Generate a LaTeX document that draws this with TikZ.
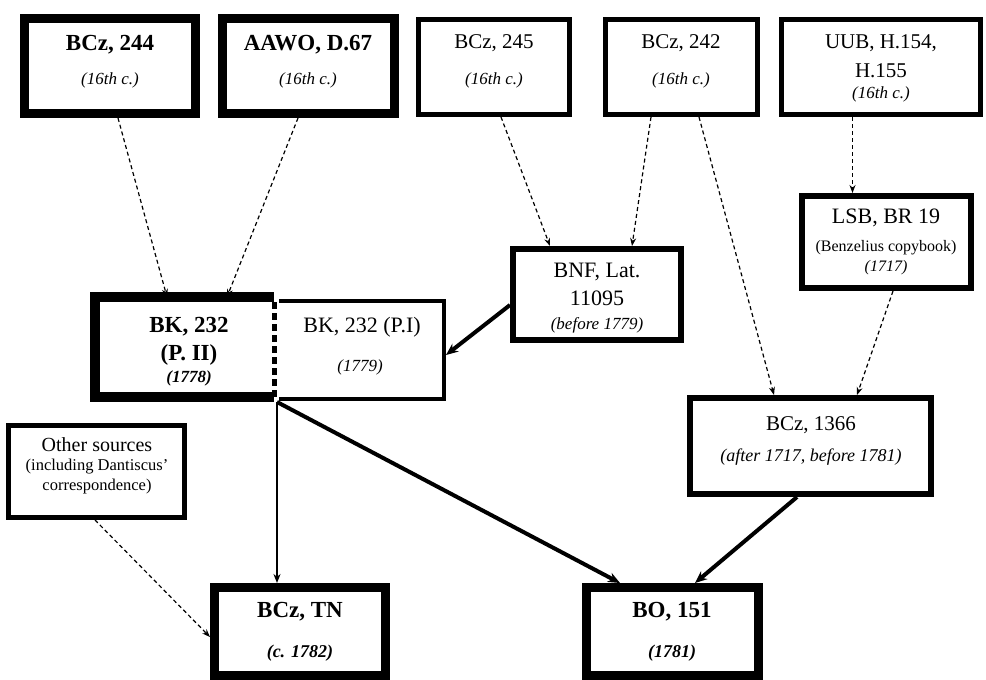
\documentclass[tikz,border=0pt]{standalone}
\usepackage{fontspec}
\setmainfont{Liberation Serif}
\usetikzlibrary{arrows.meta}
\newcommand\fsz[1]{\fontsize{#1}{#1}\selectfont}
\begin{document}
\begin{tikzpicture}[x=1pt,y=-1pt,
  boxthick/.style={draw, line width=9pt, rectangle, inner sep=0pt},
  boxmed/.style={draw, line width=5pt, rectangle, inner sep=0pt},
  txt/.style={inner sep=0pt, anchor=center},
  dasharrow/.style={line width=1.2pt, dash pattern=on 4pt off 3pt, -{Stealth[length=8pt,width=6pt]}},
  solidarrow/.style={line width=4pt, -{Stealth[length=12pt,width=10pt]}},
  thinarrow/.style={line width=2pt, -{Stealth[length=9pt,width=7pt]}},
]
\useasboundingbox[fill=white] (0,0) rectangle (986,680);

% boxes
\node[boxthick, minimum width=171pt, minimum height=95pt] (b244) at (110,66) {};
\node[boxthick, minimum width=172pt, minimum height=95pt] (aawo) at (308.5,66) {};
\node[boxmed, minimum width=151pt, minimum height=95pt] (b245) at (494,67) {};
\node[boxmed, minimum width=152pt, minimum height=95pt] (b242) at (681.5,67) {};
\node[boxmed, minimum width=199pt, minimum height=95pt] (uub) at (881,67) {};
\node[boxmed, line width=6pt, minimum width=169pt, minimum height=92pt] (lsb) at (886.5,242) {};
\node[boxmed, line width=6pt, minimum width=168pt, minimum height=91pt] (bnf) at (597,294.5) {};
\node[boxmed, line width=4pt, minimum width=170pt, minimum height=98pt] (bk1) at (359,350) {};
\node[rectangle, inner sep=0pt, outer sep=5pt, minimum width=169pt, minimum height=95pt] (bk2) at (189.5,349.5) {};
\fill[white] (bk2.north west) rectangle (bk2.south east);
\draw[line width=10pt] ([xshift=-5pt]bk2.north east) -- ([xshift=-5pt]bk2.north west) -- ([xshift=-5pt,yshift=5pt]bk2.south west) -- ([xshift=-5pt,yshift=5pt]bk2.south east);
\draw[line width=10pt] ([xshift=-5pt,yshift=-5pt]bk2.north west) -- ([xshift=-5pt,yshift=5pt]bk2.south west);
\draw[line width=5pt, dash pattern=on 7pt off 4pt] ([xshift=-5pt,yshift=-5pt]bk2.north east) -- ([xshift=-5pt,yshift=5pt]bk2.south east);
\node[boxmed, line width=6pt, minimum width=241pt, minimum height=96pt] (b1366) at (810.5,446) {};
\node[boxmed, minimum width=176pt, minimum height=92pt] (other) at (96.5,471.5) {};
\node[boxthick, minimum width=171pt, minimum height=88pt] (btn) at (300,631.5) {};
\node[boxthick, minimum width=172pt, minimum height=88pt] (bo) at (672.5,631.5) {};

% texts
\node[txt] (t244a) at (110,45) {\fsz{23}\textbf{BCz, 244}};
\node[txt] (t244b) at (110,80) {\fsz{17}\textit{(16th c.)}};
\node[txt] (taawoa) at (308,45) {\fsz{23}\textbf{AAWO, D.67}};
\node[txt] (taawob) at (308,80) {\fsz{17}\textit{(16th c.)}};
\node[txt] (t245a) at (494,43) {\fsz{21}BCz, 245};
\node[txt] (t245b) at (494,80) {\fsz{17}\textit{(16th c.)}};
\node[txt] (t242a) at (681,43) {\fsz{21}BCz, 242};
\node[txt] (t242b) at (681,80) {\fsz{17}\textit{(16th c.)}};
\node[txt] (tuuba) at (881,43) {\fsz{21}UUB, H.154,};
\node[txt] (tuubb) at (881,71) {\fsz{21}H.155};
\node[txt] (tuubc) at (881,94) {\fsz{17}\textit{(16th c.)}};
\node[txt] (tlsba) at (886,218) {\fsz{22}LSB, BR 19};
\node[txt] (tlsbb) at (886,248) {\fsz{16}(Benzelius copybook)};
\node[txt] (tlsbc) at (886,268) {\fsz{16}\textit{(1717)}};
\node[txt] (tbnfa) at (597,272) {\fsz{22}BNF, Lat.};
\node[txt] (tbnfb) at (597,298) {\fsz{22}11095};
\node[txt] (tbnfc) at (597,325) {\fsz{17}\textit{(before 1779)}};
\node[txt] (tbk2a) at (189,327) {\fsz{23}\textbf{BK, 232}};
\node[txt] (tbk2b) at (189,355) {\fsz{23}\textbf{(P. II)}};
\node[txt] (tbk2c) at (189,378) {\fsz{17}\textbf{\textit{(1778)}}};
\node[txt] (tbk1a) at (362,327) {\fsz{22}BK, 232 (P.I)};
\node[txt] (tbk1b) at (360,367) {\fsz{17}\textit{(1779)}};
\node[txt] (t1366a) at (811,425) {\fsz{21}BCz, 1366};
\node[txt] (t1366b) at (811,457) {\fsz{18}\textit{(after 1717, before 1781)}};
\node[txt] (tothera) at (97,445) {\fsz{20}Other sources};
\node[txt] (totherb) at (97,467) {\fsz{16.5}(including Dantiscus’};
\node[txt] (totherc) at (97,487) {\fsz{16.5}correspondence)};
\node[txt] (tbtna) at (300,612) {\fsz{23}\textbf{BCz, TN}};
\node[txt] (tbtnb) at (300,653) {\fsz{18}\textbf{\textit{(c. 1782)}}};
\node[txt] (tboa) at (672,612) {\fsz{23}\textbf{BO, 151}};
\node[txt] (tbob) at (672,653) {\fsz{18}\textbf{\textit{(1781)}}};

% connectors
\draw[dasharrow] ([xshift=8pt]b244.south) -- ([xshift=-22.5pt]bk2.north);
\draw[dasharrow] ([xshift=-10.5pt]aawo.south) -- ([xshift=37.5pt]bk2.north);
\draw[dasharrow] ([xshift=7pt]b245.south) -- ([xshift=-47pt]bnf.north);
\draw[dasharrow] ([xshift=-30.5pt]b242.south) -- ([xshift=35pt]bnf.north);
\draw[dasharrow] ([xshift=17.5pt]b242.south) -- ([xshift=-36.5pt]b1366.north);
\draw[dasharrow] ([xshift=-28.5pt]uub.south) -- ([xshift=-34pt]lsb.north);
\draw[dasharrow] ([xshift=6.5pt]lsb.south) -- ([xshift=46.5pt]b1366.north);
\draw[solidarrow] ([yshift=-10.5pt]bnf.west) -- ([yshift=-5pt]bk1.east);
\draw[thinarrow] ([xshift=-2pt]bk2.south east) -- ([xshift=-23pt]btn.north);
\draw[solidarrow] ([xshift=-2pt]bk2.south east) -- ([xshift=-52.5pt]bo.north);
\draw[solidarrow] ([xshift=-13.5pt]b1366.south) -- ([xshift=22.5pt]bo.north);
\draw[dasharrow] ([xshift=-1.5pt]other.south) -- ([yshift=-5.5pt]btn.west);
\end{tikzpicture}
\end{document}
